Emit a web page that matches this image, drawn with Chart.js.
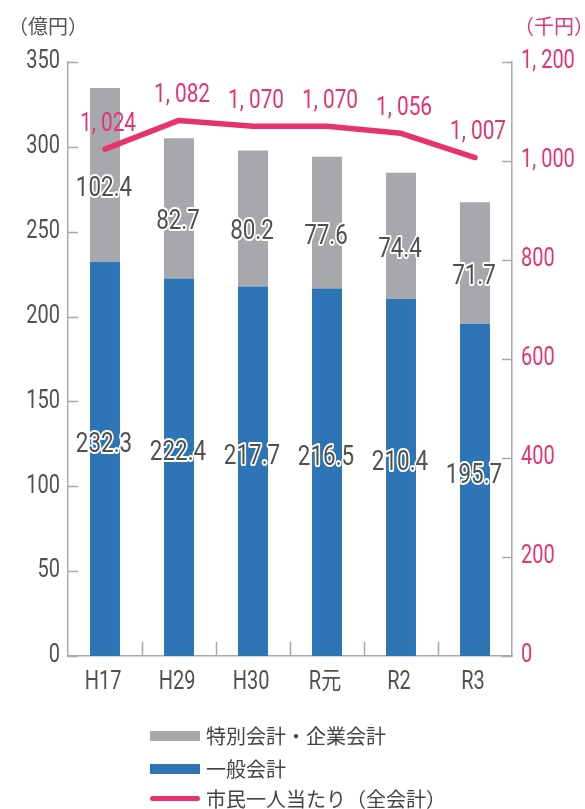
<!DOCTYPE html>
<html>
<head>
<meta charset="utf-8">
<script src="https://cdn.jsdelivr.net/npm/chart.js@4/dist/chart.umd.min.js"></script>
<style>
  html, body { margin: 0; padding: 0; background: #fff; }
  #wrap { position: relative; width: 585px; height: 809px; }
  #chart { position: absolute; left: 0; top: 0; }
  .unit { position: absolute; top: 11px; font: 20px 'Noto Sans CJK JP', sans-serif; }
  .legend { position: absolute; left: 150px; font: 20px 'Noto Sans CJK JP', sans-serif; color: #444; }
  .legend div { position: absolute; left: 0; height: 30px; white-space: nowrap; }
  .legend i { position: absolute; left: 0; width: 50px; }
  .legend span { position: absolute; left: 56px; top: 0; line-height: 30px; }
</style>
</head>
<body>
<div id="wrap">
  <canvas id="chart" width="585" height="809"></canvas>
  <div class="unit" style="left:8px;color:#555">（億円）</div>
  <div class="unit" style="left:514px;color:#e6326e">（千円）</div>
  <div class="legend">
    <div style="top:721px"><i style="top:10px;height:10px;background:#a7a8ab"></i><span>特別会計・企業会計</span></div>
    <div style="top:754px"><i style="top:10px;height:10px;background:#2e75b6"></i><span>一般会計</span></div>
    <div style="top:784px"><i style="top:12px;height:5px;border-radius:3px;background:#e6326e"></i><span>市民一人当たり（全会計）</span></div>
  </div>
</div>
<script>
/* ── data ─────────────────────────────────────────────── */
const years     = ['H17', 'H29', 'H30', 'R元', 'R2', 'R3'];
const general   = [232.3, 222.4, 217.7, 216.5, 210.4, 195.7];   // 一般会計 (億円)
const special   = [102.4, 82.7, 80.2, 77.6, 74.4, 71.7];        // 特別会計・企業会計 (億円)
const perCapita = [1024, 1082, 1070, 1070, 1056, 1007];         // 市民一人当たり (千円)

const BLUE = '#2e75b6', GREY = '#a7a8ab', PINK = '#e6326e', AXIS = '#a9a9ab', TXT = '#505050';
const NUM_FONT = "Roboto, 'Noto Sans CJK JP', sans-serif";
const SQUEEZE = 0.8;   // reference uses a condensed face

function fmtComma(v) {
  const s = String(Math.round(v));
  return s.length > 3 ? s.slice(0, -3) + ', ' + s.slice(-3) : s;
}

// condensed text: draw with a horizontal squeeze
function narrowText(ctx, txt, x, y, align, size, color, halo) {
  ctx.save();
  ctx.translate(x, y);
  ctx.scale(SQUEEZE, 1);
  ctx.font = size + 'px ' + NUM_FONT;
  ctx.textAlign = align;
  ctx.textBaseline = 'middle';
  if (halo) {
    ctx.lineJoin = 'round';
    ctx.strokeStyle = '#fff';
    ctx.lineWidth = halo;
    ctx.strokeText(txt, 0, 0);
  }
  ctx.fillStyle = color;
  ctx.fillText(txt, 0, 0);
  ctx.restore();
}

/* ── axes: inward tick marks + condensed tick labels ─── */
const axisDecor = {
  id: 'axisDecor',
  afterDraw(chart) {
    const { ctx, chartArea: a, scales } = chart;
    ctx.save();
    ctx.strokeStyle = AXIS;
    ctx.lineWidth = 1.5;
    ctx.beginPath();
    scales.y.ticks.forEach(t => {
      const py = Math.round(scales.y.getPixelForValue(t.value)) + 0.5;
      ctx.moveTo(a.left, py); ctx.lineTo(a.left + 10, py);
    });
    scales.y1.ticks.forEach(t => {
      const py = Math.round(scales.y1.getPixelForValue(t.value)) + 0.5;
      ctx.moveTo(a.right, py); ctx.lineTo(a.right - 10, py);
    });
    const step = scales.x.getPixelForValue(1) - scales.x.getPixelForValue(0);
    for (let i = 0; i < years.length - 1; i++) {
      const px = Math.round(scales.x.getPixelForValue(i) + step / 2) + 0.5;
      ctx.moveTo(px, a.bottom); ctx.lineTo(px, a.bottom - 14);
    }
    ctx.stroke();
    ctx.restore();

    scales.y.ticks.forEach(t => {
      narrowText(ctx, String(t.value), a.left - 8, scales.y.getPixelForValue(t.value), 'right', 25, TXT);
    });
    scales.y1.ticks.forEach(t => {
      narrowText(ctx, fmtComma(t.value), a.right + 9, scales.y1.getPixelForValue(t.value), 'left', 25, PINK);
    });
    years.forEach((lab, i) => {
      narrowText(ctx, lab, scales.x.getPixelForValue(i) - 2, a.bottom + 27, 'center', 25, TXT);
    });
  }
};

/* ── value labels ────────────────────────────────────── */
const valueLabels = {
  id: 'valueLabels',
  afterDatasetsDraw(chart) {
    const { ctx } = chart;
    chart.data.datasets.forEach((ds, di) => {
      const meta = chart.getDatasetMeta(di);
      meta.data.forEach((elm, i) => {
        if (ds.type === 'line') {
          narrowText(ctx, fmtComma(ds.data[i]), elm.x + 3, elm.y - 25, 'center', 26, PINK);
          return;
        }
        const mid = (elm.y + elm.base) / 2;
        const y = ds.label === '一般会計' ? mid - 14 : mid + 14;
        narrowText(ctx, ds.data[i].toFixed(1), elm.x - 1, y, 'center', 28, TXT, 4);
      });
    });
  }
};

new Chart(document.getElementById('chart').getContext('2d'), {
  data: {
    labels: years,
    datasets: [
      {
        type: 'line',
        label: '市民一人当たり（全会計）',
        data: perCapita,
        borderColor: PINK,
        borderWidth: 5.5,
        borderCapStyle: 'round',
        borderJoinStyle: 'round',
        pointRadius: 0,
        tension: 0,
        fill: false,
        yAxisID: 'y1',
        order: 1
      },
      {
        type: 'bar',
        label: '一般会計',
        data: general,
        backgroundColor: BLUE,
        barPercentage: 0.405,
        categoryPercentage: 1,
        yAxisID: 'y',
        order: 2
      },
      {
        type: 'bar',
        label: '特別会計・企業会計',
        data: special,
        backgroundColor: GREY,
        barPercentage: 0.405,
        categoryPercentage: 1,
        yAxisID: 'y',
        order: 3
      }
    ]
  },
  options: {
    responsive: false,
    animation: false,
    layout: { padding: { top: 62, bottom: 113, left: 0, right: 0 } },
    plugins: { legend: { display: false }, tooltip: { enabled: false } },
    scales: {
      x: {
        stacked: true,
        grid: { display: false },
        border: { display: true, color: AXIS, width: 1.5 },
        ticks: { display: false },
        afterFit: s => { s.height = 40; }
      },
      y: {
        stacked: true,
        position: 'left',
        min: 0, max: 350,
        ticks: { stepSize: 50, display: false },
        grid: { display: false, drawTicks: false },
        border: { display: true, color: AXIS, width: 1.5 },
        afterFit: s => { s.width = 68; }
      },
      y1: {
        position: 'right',
        min: 0, max: 1200,
        ticks: { stepSize: 200, display: false },
        grid: { display: false, drawTicks: false },
        border: { display: true, color: AXIS, width: 1.5 },
        afterFit: s => { s.width = 73; }
      }
    }
  },
  plugins: [axisDecor, valueLabels]
});
</script>
</body>
</html>
